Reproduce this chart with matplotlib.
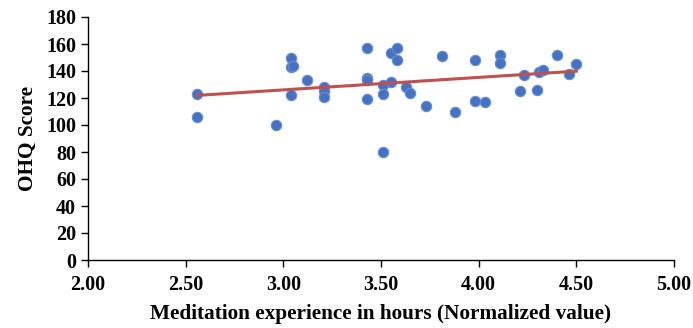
import matplotlib
matplotlib.use("Agg")
import matplotlib.pyplot as plt
import numpy as np

x_hours = [2.56, 2.56, 2.96, 3.04, 3.04, 3.05, 3.04, 3.12, 3.21, 3.21, 3.21,
           3.43, 3.43, 3.43, 3.43, 3.51, 3.51, 3.51, 3.55, 3.55, 3.58, 3.58,
           3.63, 3.65, 3.73, 3.81, 3.88, 3.98, 3.98, 4.03, 4.11, 4.11, 4.21,
           4.23, 4.30, 4.31, 4.33, 4.40, 4.46, 4.50]
y_ohq = [123, 106, 100, 150, 143, 144, 122, 133, 128, 125, 121,
         157, 135, 133, 119, 130, 123, 80, 153, 132, 157, 148,
         128, 124, 114, 151, 110, 148, 118, 117, 152, 146, 125,
         137, 126, 139, 141, 152, 138, 145]

x_ticks = [2.00, 2.50, 3.00, 3.50, 4.00, 4.50, 5.00]
y_ticks = [0, 20, 40, 60, 80, 100, 120, 140, 160, 180]

plt.rcParams['font.family'] = ['Liberation Serif', 'DejaVu Serif']
plt.rcParams['font.weight'] = 'bold'

fig = plt.figure(figsize=(6.93, 3.28), dpi=100)
ax = fig.add_axes([88/693, 1-260/328, (674-88)/693, (260-17)/328])

ax.scatter(x_hours, y_ohq, s=56, color='#4472C4', edgecolor='#6A8FD0',
           linewidth=0.8, zorder=3)

xa = np.array(x_hours)
coef = np.polyfit(xa, np.array(y_ohq), 1)
xs = np.array([xa.min(), xa.max()])
ax.plot(xs, np.polyval(coef, xs), color='#C0504D', linewidth=2.2, zorder=4)

ax.set_xlim(2.0, 5.0)
ax.set_ylim(0, 180)
ax.set_xticks(x_ticks)
ax.set_xticklabels([f"{v:.2f}" for v in x_ticks])
ax.set_yticks(y_ticks)
ax.set_yticklabels([str(v) for v in y_ticks])
ax.tick_params(axis='both', labelsize=14.5, direction='out', length=5, width=1)
ax.tick_params(axis='x', pad=6)
ax.spines['top'].set_visible(False)
ax.spines['right'].set_visible(False)
for s in ['left', 'bottom']:
    ax.spines[s].set_linewidth(1)

ax.set_xlabel('Meditation experience in hours (Normalized value)', fontsize=15.3,
              fontweight='bold', labelpad=6)
ax.set_ylabel('OHQ Score', fontsize=15.3, fontweight='bold', labelpad=6)

fig.savefig('out.png', dpi=100)
